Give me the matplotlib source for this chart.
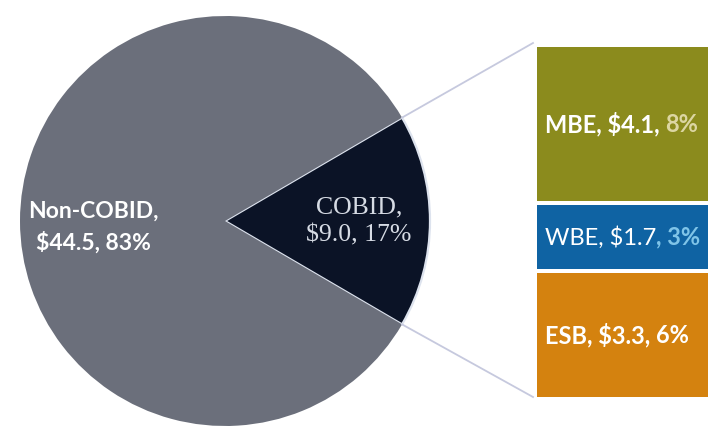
import numpy as np
import matplotlib
matplotlib.use("Agg")
from matplotlib import pyplot as plt

# data ($ millions)
pie_labels = ["COBID", "Non-COBID"]
pie_values = [9.0, 44.5]
pie_pcts = [17, 83]
bar_labels = ["ESB", "WBE", "MBE"]   # bottom -> top
bar_values = [3.3, 1.7, 4.1]
bar_pcts = [6, 3, 8]

pie_colors = ["#0b1326", "#6b6f7b"]
bar_colors = ["#d4820f", "#0f63a3", "#8b8b1d"]
pct_colors = ["white", "#7fc4e8", "#dcd6a2"]

plt.rcParams['font.family'] = ['Lato', 'DejaVu Sans']

fig = plt.figure(figsize=(7.22, 4.28), dpi=100)
ax = fig.add_axes([0, 0, 1, 1])

# pie, COBID slice centred on the right
cx, cy, r = 225, 207, 205
half = pie_values[0] / sum(pie_values) * 360 / 2
wedges, _ = ax.pie(pie_values, colors=pie_colors, center=(cx, cy), radius=r,
                   startangle=-half, counterclock=True,
                   wedgeprops={'edgecolor': '#dde3ee', 'linewidth': 1.6})
wedges[1].set_linewidth(0)
ax.set_xlim(0, 722)
ax.set_ylim(0, 428)
ax.set_aspect('equal')
ax.axis('off')

ax.text(93, 201, "%s,\n$%.1f, %d%%" % (pie_labels[1], pie_values[1], pie_pcts[1]),
        ha='center', va='center', color='white', fontsize=16.5,
        fontweight='bold', linespacing=1.55)
ax.text(359, 207, "%s,\n$%.1f, %d%%" % (pie_labels[0], pie_values[0], pie_pcts[0]),
        ha='center', va='center', color='#d6dbe4', fontsize=18.5,
        fontfamily=['Liberation Serif', 'DejaVu Serif'], linespacing=1.35)

# stacked bar of the COBID slice
bar_left, bar_w, bar_bottom = 537, 171, 31
gap = 4
scale = (350 - gap * 2) / sum(bar_values)
bottom = bar_bottom
tops = []
for lab, val, pct, col, pcol in zip(bar_labels, bar_values, bar_pcts,
                                    bar_colors, pct_colors):
    h = val * scale
    ax.bar(bar_left, h, width=bar_w, bottom=bottom, align='edge', color=col)
    if lab == "WBE":
        first, second, weight = "%s, $%.1f" % (lab, val), ", %d%%" % pct, 'normal'
    else:
        first, second, weight = "%s, $%.1f, " % (lab, val), "%d%%" % pct, 'bold'
    t1 = ax.text(bar_left + 8, bottom + h / 2, first,
                 ha='left', va='center', color='white', fontsize=17,
                 fontweight=weight)
    ax.annotate(second, xy=(1, 0), xycoords=t1, va='bottom',
                color=pcol, fontsize=17, fontweight='bold')
    bottom += h + gap
    tops.append(bottom - gap)

# connector lines from slice edges to bar corners
ang = np.deg2rad(half)
ax.plot([cx + r * np.cos(ang), bar_left - 4], [cy + r * np.sin(ang), tops[-1] + 4],
        color='#c6c9de', lw=1.3)
ax.plot([cx + r * np.cos(ang), bar_left - 4], [cy - r * np.sin(ang), bar_bottom],
        color='#c6c9de', lw=1.3)

plt.savefig('out.png', dpi=100)
